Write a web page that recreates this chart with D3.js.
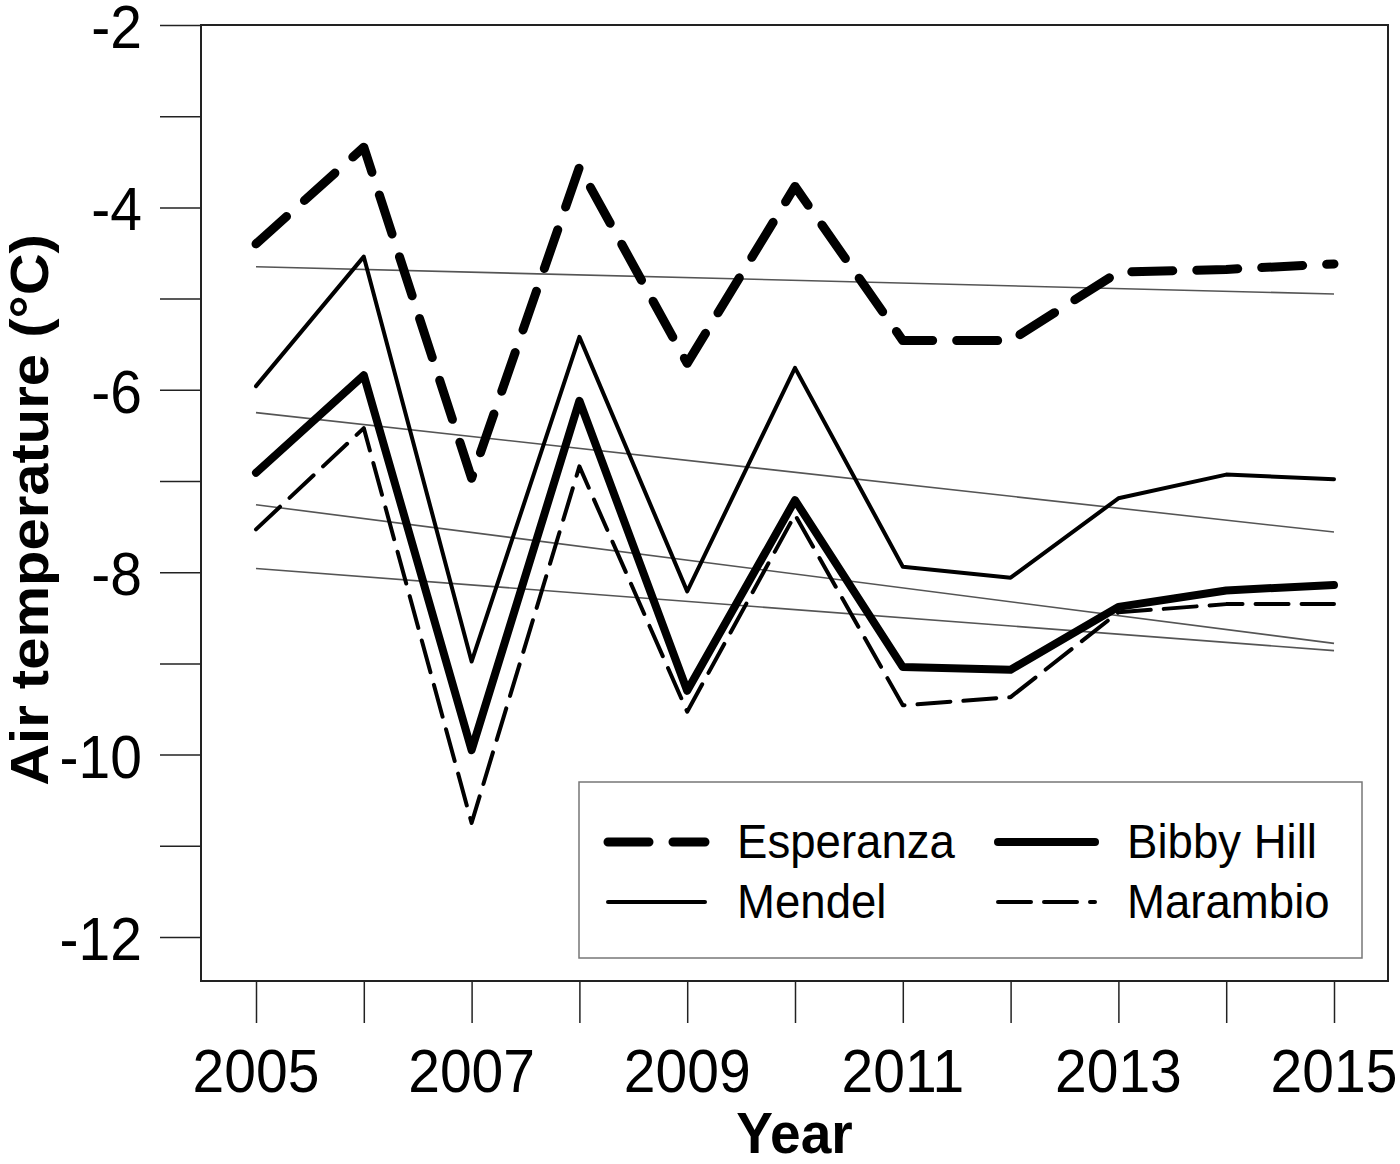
<!DOCTYPE html>
<html lang="en">
<head>
<meta charset="UTF-8">
<title>air temperature</title>
<script src="https://cdn.jsdelivr.net/npm/d3@7"></script>
<style>
    body { margin: 0; background: #fff; }
    text { font-family: "Liberation Sans", Arial, sans-serif; fill: #000; }
</style>
</head>
<body>
<svg id="chart" width="1400" height="1164"></svg>
<script>
    // data
    let years = [2005, 2006, 2007, 2008, 2009, 2010, 2011, 2012, 2013, 2014, 2015]
    let esperanza = [-4.40, -3.34, -6.97, -3.56, -5.71, -3.77, -5.46, -5.46, -4.71, -4.68, -4.62]
    let mendel    = [-5.96, -4.54, -8.98, -5.42, -8.21, -5.76, -7.94, -8.06, -7.19, -6.93, -6.98]
    let bibby     = [-6.91, -5.84, -9.95, -6.12, -9.30, -7.21, -9.04, -9.07, -8.38, -8.20, -8.14]
    let marambio  = [-7.53, -6.42, -10.75, -6.84, -9.53, -7.37, -9.46, -9.37, -8.44, -8.35, -8.35]
    // linear trends: value at 2005 and 2015
    let trendYears = [2005, 2015]
    let esperanzaTrend = [-4.65, -4.95]
    let mendelTrend    = [-6.25, -7.56]
    let bibbyTrend     = [-7.26, -8.78]
    let marambioTrend  = [-7.96, -8.86]
    let yTicks = [-2, -3, -4, -5, -6, -7, -8, -9, -10, -11, -12]
    let yLabels = [-2, -4, -6, -8, -10, -12]
    let xLabels = [2005, 2007, 2009, 2011, 2013, 2015]

    let svg = d3.select("#chart")
    let box = {left: 201, right: 1388, top: 25, bottom: 981}

    let x_scale = d3.scaleLinear().domain([2005, 2015]).range([256, 1334])
    let y_scale = d3.scaleLinear().domain([-12, -2]).range([937, 25])

    // axes
    let x_axis = d3.axisBottom(x_scale)
        .tickValues(years)
        .tickSize(42)
        .tickFormat(d => xLabels.includes(d) ? d : "")
    let gx = svg.append("g")
        .attr("transform", `translate(0,${box.bottom})`)
        .call(x_axis)
    gx.select(".domain").remove()
    gx.selectAll(".tick line").attr("stroke", "#222").attr("stroke-width", 1.5)
    gx.selectAll(".tick text").remove()

    let y_axis = d3.axisLeft(y_scale)
        .tickValues(yTicks)
        .tickSize(41)
    let gy = svg.append("g")
        .attr("transform", `translate(${box.left},0)`)
        .call(y_axis)
    gy.select(".domain").remove()
    gy.selectAll(".tick line").attr("stroke", "#222").attr("stroke-width", 1.5)
    gy.selectAll(".tick text").remove()

    // tick labels, slightly narrow like the original
    svg.append("g").selectAll("g")
        .data(xLabels)
        .join("g")
        .attr("transform", d => `translate(${x_scale(d)},1092) scale(0.92,1)`)
        .append("text")
        .attr("text-anchor", "middle")
        .style("font-size", "62px")
        .text(d => d)

    svg.append("g").selectAll("g")
        .data(yLabels)
        .join("g")
        .attr("transform", d => `translate(142,${y_scale(d) + 23}) scale(0.92,1)`)
        .append("text")
        .attr("text-anchor", "end")
        .style("font-size", "62px")
        .text(d => d)

    // axis titles
    svg.append("g")
        .attr("transform", `translate(${(box.left + box.right) / 2},1153) scale(0.95,1)`)
        .append("text")
        .attr("text-anchor", "middle")
        .style("font-size", "58px")
        .style("font-weight", "bold")
        .text("Year")

    svg.append("g")
        .attr("transform", `translate(48,${(box.top + box.bottom) / 2 + 7}) rotate(-90) scale(1,0.92)`)
        .append("text")
        .attr("text-anchor", "middle")
        .style("font-size", "58px")
        .style("font-weight", "bold")
        .text("Air temperature (°C)")

    // trend lines
    let trends = [esperanzaTrend, mendelTrend, bibbyTrend, marambioTrend]
    let line = d3.line()
        .x(d => x_scale(d[0]))
        .y(d => y_scale(d[1]))

    svg.append("g").selectAll("path")
        .data(trends)
        .join("path")
        .attr("d", t => line(d3.zip(trendYears, t)))
        .attr("fill", "none")
        .attr("stroke", "#555")
        .attr("stroke-width", 1.6)

    // station series
    let series = [
        {name: "Esperanza", values: esperanza, width: 9, dash: "41 24"},
        {name: "Mendel", values: mendel, width: 4, dash: null},
        {name: "Bibby Hill", values: bibby, width: 8, dash: null},
        {name: "Marambio", values: marambio, width: 4, dash: "33 13"}
    ]

    svg.append("g").selectAll("path")
        .data(series)
        .join("path")
        .attr("d", s => line(d3.zip(years, s.values)))
        .attr("fill", "none")
        .attr("stroke", "#000")
        .attr("stroke-width", s => s.width)
        .attr("stroke-dasharray", s => s.dash)
        .attr("stroke-linecap", "round")
        .attr("stroke-linejoin", "round")

    // plot box
    svg.append("rect")
        .attr("x", box.left)
        .attr("y", box.top)
        .attr("width", box.right - box.left)
        .attr("height", box.bottom - box.top)
        .attr("fill", "none")
        .attr("stroke", "#222")
        .attr("stroke-width", 2)

    // legend
    let legend = svg.append("g")
    legend.append("rect")
        .attr("x", 579)
        .attr("y", 782)
        .attr("width", 783)
        .attr("height", 176)
        .attr("fill", "#fff")
        .attr("stroke", "#777")
        .attr("stroke-width", 1.5)

    let legendPos = [
        {x: 608, y: 842}, {x: 608, y: 902}, {x: 998, y: 842}, {x: 998, y: 902}
    ]
    let items = legend.selectAll("g.item")
        .data(series)
        .join("g")
        .attr("class", "item")
        .attr("transform", (d, i) => `translate(${legendPos[i].x},${legendPos[i].y})`)
    items.append("line")
        .attr("x1", 0).attr("x2", 97)
        .attr("y1", 0).attr("y2", 0)
        .attr("stroke", "#000")
        .attr("stroke-width", d => d.width)
        .attr("stroke-dasharray", d => d.dash)
        .attr("stroke-linecap", "round")
    items.append("g")
        .attr("transform", "translate(129,16) scale(0.95,1)")
        .append("text")
        .style("font-size", "48px")
        .text(d => d.name)
</script>
</body>
</html>
